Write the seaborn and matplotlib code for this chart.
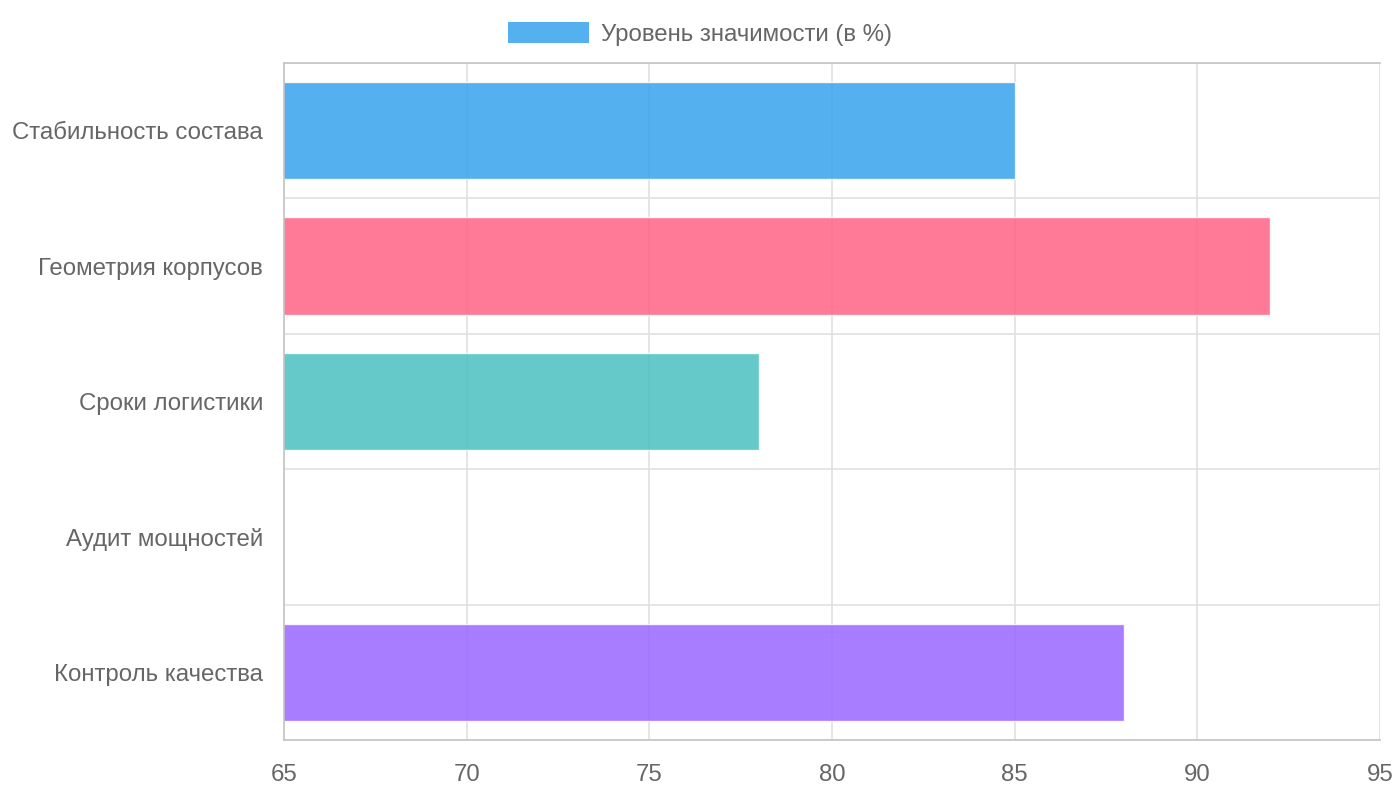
import matplotlib
matplotlib.use("Agg")
import matplotlib.pyplot as plt
import seaborn as sns
import pandas as pd
import numpy as np
from matplotlib.patches import Patch

# Данные графика
categories = ["Стабильность состава", "Геометрия корпусов", "Сроки логистики",
              "Аудит мощностей", "Контроль качества"]
values = [85, 92, 78, 60, 88]
colors = ["#36a2eb", "#ff6384", "#4bc0c0", "#ffce56", "#9966ff"]
legend_label = "Уровень значимости (в %)"
x_ticks = [65, 70, 75, 80, 85, 90, 95]

df = pd.DataFrame({"category": categories, "value": values})

sns.set_theme(style="white")
plt.rcParams['font.family'] = ['Liberation Sans', 'DejaVu Sans']

fig = plt.figure(figsize=(14, 8), dpi=100)
ax = fig.add_axes([284 / 1400, 60 / 800, 1096 / 1400, 677 / 800])

sns.barplot(data=df, y="category", x="value", hue="category", palette=colors,
            orient="h", width=0.72, alpha=0.85, legend=False, ax=ax,
            saturation=1)

ax.set_xlim(65, 95)
ax.set_ylim(4.5, -0.5)
ax.set_xlabel("")
ax.set_ylabel("")

grid_col = "#e0e0e0"
ax.set_xticks(x_ticks)
ax.set_xticklabels([str(t) for t in x_ticks], fontsize=17.3, color="#666666")
ax.tick_params(axis="x", length=13, width=1.2, color=grid_col, pad=4)
ax.grid(axis="x", color=grid_col, linewidth=1.2, zorder=0)

# границы категорий
ax.set_yticks(np.arange(-0.5, len(categories), 1.0), minor=True)
ax.tick_params(axis="y", which="minor", length=14, width=1.2, color=grid_col)
ax.tick_params(axis="y", which="major", length=0, pad=15, labelsize=17.3, labelcolor="#666666")
ax.grid(axis="y", which="minor", color=grid_col, linewidth=1.2)
ax.grid(axis="y", which="major", visible=False)
ax.set_axisbelow(True)

for side in ["top", "bottom", "left"]:
    ax.spines[side].set_color("#c4c4c4")
    ax.spines[side].set_linewidth(1.2)
ax.spines["right"].set_visible(False)

handle = Patch(facecolor=colors[0], alpha=0.85, edgecolor="none")
fig.legend([handle], [legend_label], loc="upper center", bbox_to_anchor=(0.5, 1.0),
           frameon=False, fontsize=17.3, handlelength=3.4, handleheight=1.0,
           labelcolor="#666666", handletextpad=0.5)

plt.savefig("out.png", dpi=100)
